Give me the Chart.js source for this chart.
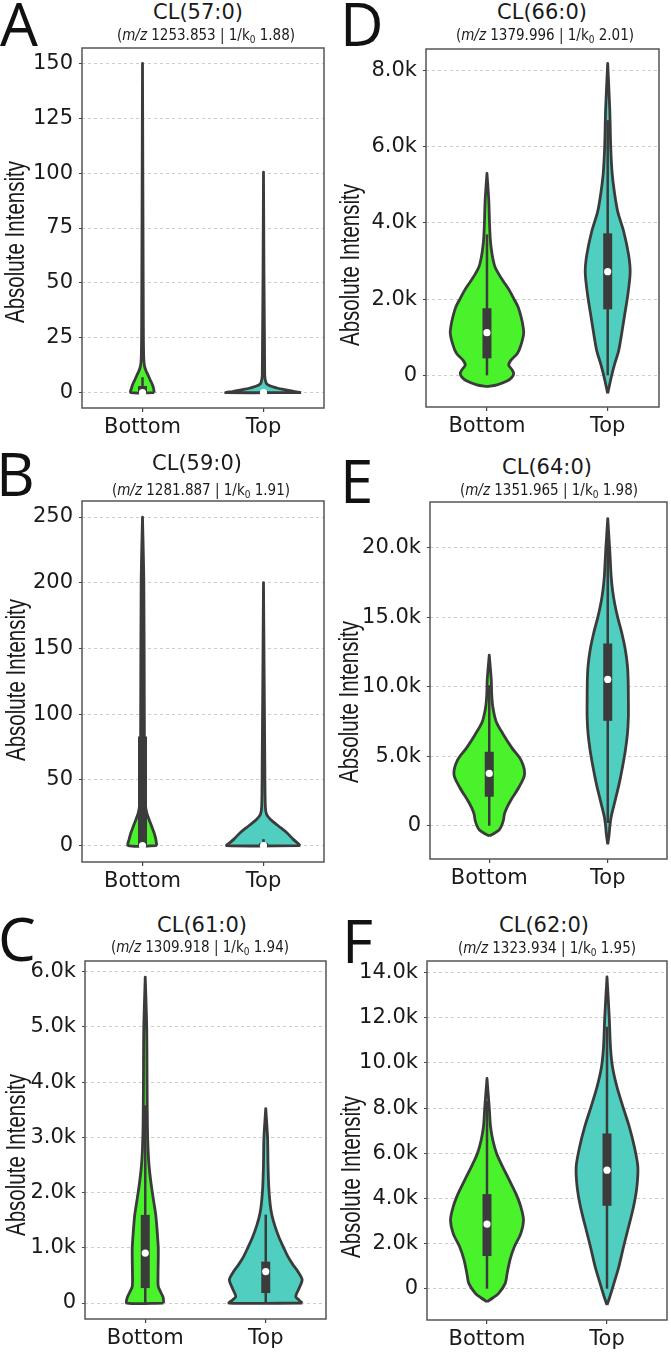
<!DOCTYPE html>
<html><head><meta charset="utf-8">
<script src="https://cdn.jsdelivr.net/npm/chart.js@4.4.1/dist/chart.umd.min.js"></script>
<style>
body{margin:0;width:671px;height:1352px;background:#fff;position:relative;overflow:hidden;}
canvas{position:absolute;}
.t{position:absolute;transform:translate(-50%,-50%);white-space:nowrap;color:#1a1a1a;line-height:1;}
.title{font:21px 'DejaVu Sans';}
.sub{font:15px 'DejaVu Sans Condensed',sans-serif;}
.sub sub{font-size:10px;vertical-align:-3px;}
.letter{position:absolute;font:400 60px 'Open Sans';line-height:1;color:#111;}
.ylab{position:absolute;white-space:nowrap;font:27px 'Liberation Sans',sans-serif;line-height:1;color:#1a1a1a;transform:translate(-50%,-50%) rotate(-90deg) scaleX(0.76);}
</style></head><body>
<script>
// ---------- data ----------
const categories = ['Bottom', 'Top'];
const panelLetters = ['A', 'B', 'C', 'D', 'E', 'F'];
const panelTitles = ['CL(57:0)', 'CL(59:0)', 'CL(61:0)', 'CL(66:0)', 'CL(64:0)', 'CL(62:0)'];
const mzValues = ['1253.853', '1281.887', '1309.918', '1379.996', '1351.965', '1323.934'];
const k0Values = ['1.88', '1.91', '1.94', '2.01', '1.98', '1.95'];
const yAxisTitle = 'Absolute Intensity';

const ticksA = [0, 25, 50, 75, 100, 125, 150];
const ticksB = [0, 50, 100, 150, 200, 250];
const ticksC = [0, 1000, 2000, 3000, 4000, 5000, 6000];
const ticksD = [0, 2000, 4000, 6000, 8000];
const ticksE = [0, 5000, 10000, 15000, 20000];
const ticksF = [0, 2000, 4000, 6000, 8000, 10000, 12000, 14000];

// violin profiles: intensity levels and half-width (density, in category units)
const aBotY = [0, 2, 4, 6, 8, 10, 12, 16, 30, 150];
const aBotW = [0.097, 0.091, 0.079, 0.062, 0.046, 0.029, 0.017, 0.010, 0.007, 0];
const aTopY = [0, 0.5, 1, 1.5, 2, 2.5, 3, 3.5, 4.5, 8, 100.4];
const aTopW = [0.311, 0.257, 0.207, 0.162, 0.120, 0.087, 0.058, 0.037, 0.021, 0.010, 0];
const bBotY = [0, 5, 10, 15, 20, 25, 30, 40, 100, 200, 250];
const bBotW = [0.118, 0.110, 0.095, 0.075, 0.054, 0.035, 0.025, 0.018, 0.015, 0.011, 0];
const bTopY = [0, 2, 5, 10, 15, 20, 24, 30, 60, 200];
const bTopW = [0.304, 0.282, 0.244, 0.191, 0.124, 0.058, 0.025, 0.015, 0.011, 0];
const cBotY = [0, 100, 200, 300, 500, 800, 1000, 1300, 1600, 1900, 2200, 2500, 2800, 3200, 4000, 5000, 5900];
const cBotW = [0.152, 0.149, 0.128, 0.108, 0.106, 0.108, 0.108, 0.099, 0.087, 0.066, 0.046, 0.031, 0.023, 0.018, 0.015, 0.012, 0];
const cTopY = [0, 60, 120, 250, 420, 550, 700, 850, 1000, 1200, 1400, 1600, 1800, 2100, 2500, 3000, 3520];
const cTopW = [0.304, 0.273, 0.249, 0.273, 0.302, 0.273, 0.224, 0.182, 0.149, 0.108, 0.075, 0.050, 0.036, 0.025, 0.019, 0.015, 0];
const dBotY = [-300, -250, -150, -50, 50, 150, 270, 400, 577, 800, 1103, 1300, 1540, 1800, 2022, 2250, 2459, 2650, 2852, 3050, 3290, 3600, 4000, 4600, 5304];
const dBotW = [0, 0.083, 0.166, 0.207, 0.221, 0.207, 0.180, 0.199, 0.253, 0.282, 0.304, 0.298, 0.282, 0.257, 0.221, 0.182, 0.138, 0.099, 0.066, 0.050, 0.037, 0.027, 0.021, 0.015, 0];
const dTopY = [-473, -300, -168, 0, 300, 650, 1100, 1540, 2100, 2700, 3150, 3770, 4300, 4800, 5300, 6000, 7000, 8193];
const dTopW = [0, 0.012, 0.021, 0.033, 0.058, 0.091, 0.116, 0.138, 0.166, 0.186, 0.174, 0.133, 0.083, 0.056, 0.037, 0.025, 0.017, 0];
const eBotY = [-740, -500, -309, 0, 410, 840, 1300, 1800, 2750, 3700, 4700, 5600, 6600, 7500, 8500, 9400, 10500, 12263];
const eBotW = [0, 0.050, 0.083, 0.104, 0.120, 0.128, 0.149, 0.180, 0.249, 0.298, 0.269, 0.191, 0.116, 0.058, 0.031, 0.021, 0.017, 0];
const eTopY = [-1340, -600, 0, 650, 1800, 3045, 4200, 5438, 6600, 7831, 9000, 10500, 11500, 12620, 13800, 15014, 16000, 16900, 17900, 19800, 22080];
const eTopW = [0, 0.012, 0.018, 0.029, 0.062, 0.097, 0.124, 0.149, 0.166, 0.174, 0.174, 0.172, 0.166, 0.149, 0.120, 0.083, 0.058, 0.041, 0.029, 0.017, 0];
const fBotY = [-575, -400, -204, 239, 681, 1270, 1858, 2450, 3040, 3628, 4221, 4810, 5398, 5991, 6600, 7200, 8000, 9310];
const fBotW = [0, 0.050, 0.097, 0.152, 0.168, 0.191, 0.228, 0.282, 0.304, 0.282, 0.240, 0.186, 0.131, 0.080, 0.048, 0.029, 0.019, 0];
const fTopY = [-721, -400, -58, 681, 976, 1858, 2744, 3628, 4513, 5398, 6283, 7168, 8053, 8938, 9823, 10700, 12000, 13805];
const fTopW = [0, 0.021, 0.041, 0.083, 0.099, 0.138, 0.180, 0.221, 0.249, 0.257, 0.228, 0.186, 0.133, 0.083, 0.046, 0.029, 0.019, 0];

// inner box: [q1, median, q3, whiskerLow, whiskerHigh]
const aBotBox = [0, 0, 3, 0, 7];
const aTopBox = [0, 0, 0.5, 0, 1];
const bBotBox = [0, 0, 83, 0, 207];
const bTopBox = [0, 0, 2, 0, 5];
const cBotBox = [271, 904, 1596, 0, 3580];
const cTopBox = [180, 570, 750, 0, 1600];
const dBotBox = [446, 1119, 1760, 0, 3700];
const dTopBox = [1733, 2721, 3729, 0, 6700];
const eBotBox = [2085, 3764, 5318, 0, 10100];
const eTopBox = [7543, 10517, 13103, 200, 21000];
const fBotBox = [1447, 2863, 4190, 0, 8300];
const fTopBox = [3673, 5252, 6876, 0, 11600];

// ---------- layout / style ----------
const FILL = ['#4af22c', '#50cfc1'];
const EDGE = '#3b3b3b';
const panels = [
  {ticks: ticksA, yr: [-7, 157], v: [[aBotY, aBotW, aBotBox], [aTopY, aTopW, aTopBox]], col: 0, frame: {l: 82, t: 48, r: 324, b: 408}, xr: [-0.5, 1.5],
   letter: [0, -7], title: [198, 12], sub: [206, 35], ylab: [15, 242]},
  {ticks: ticksB, yr: [-12.4, 262.2], v: [[bBotY, bBotW, bBotBox], [bTopY, bTopW, bTopBox]], col: 0, frame: {l: 82, t: 501, r: 324, b: 862}, xr: [-0.5, 1.5],
   letter: [-4, 443], title: [197, 463], sub: [201, 490], ylab: [16, 680]},
  {ticks: ticksC, yr: [-289, 6192], v: [[cBotY, cBotW, cBotBox], [cTopY, cTopW, cTopBox]], col: 0, frame: {l: 85, t: 961, r: 326, b: 1319}, xr: [-0.5, 1.5],
   letter: [-2, 908], title: [202, 925], sub: [200, 947], ylab: [16, 1155]},
  {ticks: ticksD, yr: [-832, 8569], v: [[dBotY, dBotW, dBotBox], [dTopY, dTopW, dTopBox]], col: 1, frame: {l: 426, t: 49, r: 659, b: 407}, xr: [-0.505, 1.425],
   letter: [340, -7], title: [542, 12], sub: [545, 35], ylab: [350, 265]},
  {ticks: ticksE, yr: [-2392, 23276], v: [[eBotY, eBotW, eBotBox], [eTopY, eTopW, eTopBox]], col: 1, frame: {l: 430, t: 502, r: 669, b: 859}, xr: [-0.5, 1.5],
   letter: [340, 450], title: [547, 467], sub: [549, 490], ylab: [349, 702]},
  {ticks: ticksF, yr: [-1385, 14513], v: [[fBotY, fBotW, fBotBox], [fTopY, fTopW, fTopBox]], col: 1, frame: {l: 427, t: 961, r: 668, b: 1320}, xr: [-0.5, 1.5],
   letter: [342, 910], title: [544, 925], sub: [547, 948], ylab: [351, 1177]}
];

const framePlugin = {
  id: 'frame',
  afterDraw(c) {
    const a = c.chartArea, x = c.ctx;
    x.save(); x.strokeStyle = '#555555'; x.lineWidth = 1.5;
    x.strokeRect(a.left, a.top, a.right - a.left, a.bottom - a.top);
    x.restore();
  }
};

function fmt(v) { return v === 0 ? '0' : (Math.abs(v) >= 1000 ? (v / 1000).toFixed(1) + 'k' : String(v)); }

function addText(cls, html, pos) {
  const d = document.createElement('div');
  d.className = cls; d.innerHTML = html;
  d.style.left = pos[0] + 'px'; d.style.top = pos[1] + 'px';
  document.body.appendChild(d);
}

panels.forEach((p, pi) => {
  const cl = p.col === 0 ? 30 : 340, cw = p.col === 0 ? 305 : 331;
  const ct = p.frame.t - 20, ch = p.frame.b + 45 - ct;
  const cv = document.createElement('canvas');
  cv.width = cw; cv.height = ch;
  cv.style.left = cl + 'px'; cv.style.top = ct + 'px';
  cv.style.width = cw + 'px'; cv.style.height = ch + 'px';
  document.body.appendChild(cv);

  const datasets = [];
  p.v.forEach((vv, i) => {
    const [ys, ws, box] = vv;
    const pts = [];
    for (let k = 0; k < ys.length; k++) pts.push({x: i + ws[k], y: ys[k]});
    for (let k = ys.length - 1; k >= 0; k--) pts.push({x: i - ws[k], y: ys[k]});
    pts.push({x: pts[0].x, y: pts[0].y});
    datasets.push({data: pts, fill: 'shape', backgroundColor: FILL[i], borderColor: EDGE, borderWidth: 2.8,
      pointRadius: 0, tension: 0.3, order: 4, borderJoinStyle: 'round'});
    datasets.push({data: [{x: i, y: box[3]}, {x: i, y: box[4]}], borderColor: EDGE, borderWidth: 2.5,
      pointRadius: 0, fill: false, order: 3, borderCapStyle: 'butt'});
    datasets.push({data: [{x: i, y: box[0]}, {x: i, y: box[2]}], borderColor: EDGE, borderWidth: 9,
      pointRadius: 0, fill: false, order: 2, borderCapStyle: 'butt'});
    datasets.push({data: [{x: i, y: box[1]}], borderColor: '#fff', backgroundColor: '#fff', pointRadius: 3.6,
      pointBorderWidth: 0, showLine: false, fill: false, order: 1});
  });

  new Chart(cv, {
    type: 'line',
    data: {datasets},
    plugins: [framePlugin],
    options: {
      responsive: false, animation: false, events: [],
      layout: {padding: {top: 20, left: 0, bottom: 0, right: cl + cw - p.frame.r}},
      plugins: {legend: {display: false}, tooltip: {enabled: false}, title: {display: false}},
      scales: {
        x: {
          type: 'linear', min: p.xr[0], max: p.xr[1],
          afterBuildTicks: s => { s.ticks = [{value: 0}, {value: 1}]; },
          afterFit: s => { s.height = 45; },
          ticks: {callback: (v) => categories[Math.round(v)], font: {family: 'DejaVu Sans', size: 21}, color: '#1a1a1a', padding: 3, maxRotation: 0, autoSkip: false},
          grid: {drawOnChartArea: false, drawTicks: true, tickLength: 4, tickColor: '#444', lineWidth: 1.2},
          border: {display: false}
        },
        y: {
          type: 'linear', min: p.yr[0], max: p.yr[1],
          afterBuildTicks: s => { s.ticks = p.ticks.map(v => ({value: v})); },
          afterFit: s => { s.width = p.frame.l - cl; },
          ticks: {callback: v => fmt(v), font: {family: 'DejaVu Sans', size: 21}, color: '#1a1a1a', padding: 6, autoSkip: false},
          grid: {color: '#cccccc', lineWidth: 1, drawTicks: true, tickLength: 3, tickColor: '#444', tickBorderDash: []},
          border: {display: false, dash: [3, 3]}
        }
      }
    }
  });

  addText('letter', panelLetters[pi], p.letter);
  addText('t title', panelTitles[pi], p.title);
  addText('t sub', '(<i>m/z</i> ' + mzValues[pi] + ' | 1/k<sub>0</sub> ' + k0Values[pi] + ')', p.sub);
  addText('ylab', yAxisTitle, p.ylab);
});
</script>
</body></html>
